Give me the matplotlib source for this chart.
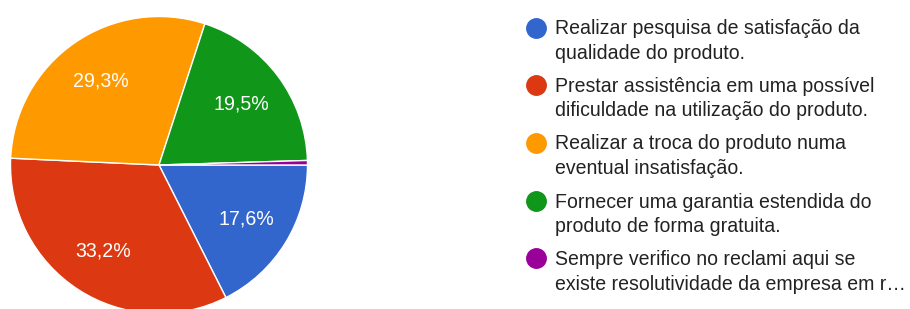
import matplotlib
matplotlib.use('Agg')
import matplotlib.pyplot as plt
from matplotlib.lines import Line2D

plt.rcParams['font.family'] = ['Liberation Sans', 'DejaVu Sans']

labels = [['Realizar pesquisa de satisfação da', 'qualidade do produto.'],
          ['Prestar assistência em uma possível', 'dificuldade na utilização do produto.'],
          ['Realizar a troca do produto numa', 'eventual insatisfação.'],
          ['Fornecer uma garantia estendida do', 'produto de forma gratuita.'],
          ['Sempre verifico no reclami aqui se', 'existe resolutividade da empresa em r…']]
counts = [36, 68, 60, 40, 1]
colors = ['#3366cc', '#dc3912', '#ff9900', '#109618', '#990099']

W, H = 910, 309
fig = plt.figure(figsize=(W/100, H/100), dpi=100)

#pie placed in pixel coords: center (159,165), radius 148.5
cx, cy, r = 159, 165, 148.5
ax = fig.add_axes([(cx-r)/W, (H-cy-r)/H, 2*r/W, 2*r/H])
def fmt(p):
    return ('%.1f%%' % p).replace('.', ',') if p > 5 else ''
wedges, texts, autotexts = ax.pie(counts, colors=colors, startangle=0, counterclock=False,
                                  autopct=fmt, pctdistance=0.69,
                                  wedgeprops=dict(edgecolor='white', linewidth=1),
                                  textprops=dict(color='white', fontsize=14.1))
ax.set_xlim(-1, 1)
ax.set_ylim(-1, 1)
ax.set_aspect('equal')
ax.axis('off')

#legend
item_y = [27.7, 85, 142.7, 201, 258.3]
line_gap = 25
for i in range(len(labels)):
    y0 = item_y[i]
    fig.add_artist(Line2D([536/W], [1-y0/H], marker='o', markersize=14,
                          color=colors[i], linestyle='none', transform=fig.transFigure))
    for j, line in enumerate(labels[i]):
        yb = y0 + j*line_gap + 6.5
        fig.text(555/W, 1-yb/H, line, fontsize=14.05, color='#222222', va='baseline', ha='left')

fig.savefig('out.png', dpi=100)
